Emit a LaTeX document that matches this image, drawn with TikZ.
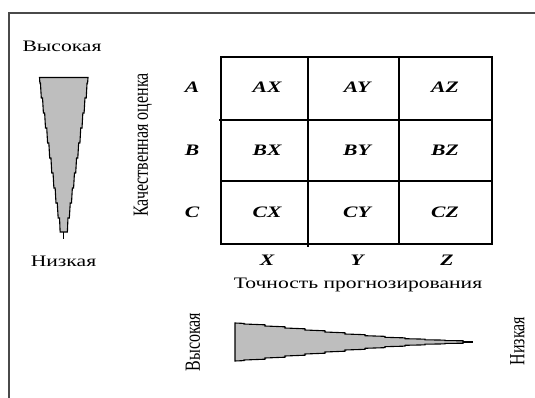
\documentclass[tikz,border=0pt]{standalone}
\usepackage{fontspec}
\setmainfont{Liberation Serif}
\usepackage{graphicx}
\newcommand{\hstr}[1]{\scalebox{1.35}[1]{#1}}
\newcommand{\vstr}[1]{\rotatebox{90}{\scalebox{1}[1.35]{#1}}}
\definecolor{wedgegray}{HTML}{BEBEBE}
\definecolor{framegray}{HTML}{4A4A4A}
\begin{document}
\begin{tikzpicture}[x=1pt,y=-1pt,
  every node/.style={inner sep=0pt,font=\fontsize{16}{19}\selectfont},
  letter/.style={font=\fontsize{16}{19}\selectfont\bfseries\itshape},
  framel/.style={draw=framegray,line width=1.4pt},
  gridl/.style={draw=black,line width=1.1pt},
  wedge/.style={fill=wedgegray,draw=black,line width=1.1pt,line join=miter}]
\useasboundingbox (0,0) rectangle (535,398);
% frame
\draw[framel] (535,13) -- (9,13) -- (9,398);

% left wedge (vertical)
\def\cx{63.75}
\filldraw[wedge] ({\cx-24.25},77.5) -- ({\cx+24.25},77.5)
  \foreach \a/\ha/\b/\hb in {77.5/24.25/83/23.3, 83/23.3/98/21.2, 98/21.2/113/19.1,
     113/19.1/128/17, 128/17/143/14.9, 143/14.9/158/12.8, 158/12.8/173/10.7,
     173/10.7/188/8.6, 188/8.6/203/6.5, 203/6.5/218/4.2, 218/4.2/232/2.8}
  { -- ({\cx+\ha-0.4*(\ha-\hb)},\b) -- ({\cx+\hb},\b) }
  \foreach \a/\ha/\b/\hb in {218/4.2/232/2.8, 203/6.5/218/4.2, 188/8.6/203/6.5,
     173/10.7/188/8.6, 158/12.8/173/10.7, 143/14.9/158/12.8, 128/17/143/14.9,
     113/19.1/128/17, 98/21.2/113/19.1, 83/23.3/98/21.2, 77.5/24.25/83/23.3}
  { -- ({\cx-\hb},\b) -- ({\cx-\ha+0.4*(\ha-\hb)},\b) -- ({\cx-\ha},\a) } -- cycle;
\coordinate (ltip0) at (\cx,232);
\coordinate (ltip1) at (\cx,239);
\draw[line width=1.1pt] (ltip0) -- (ltip1);

% bottom wedge (horizontal)
\def\cy{342}
\filldraw[wedge] (235,{\cy-19}) -- (235,{\cy+19})
  \foreach \a/\ha/\b/\hb in {235/19/244/18, 244/18/265/16, 265/16/285/14,
     285/14/305/12, 305/12/325/10, 325/10/345/8, 345/8/365/6.3, 365/6.3/385/4.7,
     385/4.7/405/3.3, 405/3.3/425/2.2, 425/2.2/445/1.4, 445/1.4/463/1.0}
  { -- (\b,{\cy+\ha-0.4*(\ha-\hb)}) -- (\b,{\cy+\hb}) }
  \foreach \a/\ha/\b/\hb in {445/1.4/463/1.0, 425/2.2/445/1.4, 405/3.3/425/2.2,
     385/4.7/405/3.3, 365/6.3/385/4.7, 345/8/365/6.3, 325/10/345/8, 305/12/325/10,
     285/14/305/12, 265/16/285/14, 244/18/265/16, 235/19/244/18}
  { -- (\b,{\cy-\hb}) -- (\b,{\cy-\ha+0.4*(\ha-\hb)}) -- (\a,{\cy-\ha}) } -- cycle;
\coordinate (btip0) at (463,\cy);
\coordinate (btip1) at (473,\cy);
\draw[line width=1.1pt] (btip0) -- (btip1);

% grid
\draw[gridl] (221,57) rectangle (492,244);
\draw[gridl] (308,57) -- (308,247);
\draw[gridl] (399,57) -- (399,244);
\draw[gridl] (219,120) -- (492,120);
\draw[gridl] (221,181) -- (492,181);

% texts
\node (hi1) at (62,46) {\hstr{Высокая}};
\node (lo1) at (63.5,261) {\hstr{Низкая}};
\node (qual) at (143,145) {\vstr{Качественная оценка}};
\node[letter] (rA) at (192,87) {\hstr{A}};
\node[letter] (rB) at (192,150) {\hstr{B}};
\node[letter] (rC) at (192,212) {\hstr{C}};
\node[letter] (AX) at (267,87) {\hstr{AX}};
\node[letter] (AY) at (357,87) {\hstr{AY}};
\node[letter] (AZ) at (445,87) {\hstr{AZ}};
\node[letter] (BX) at (267,150) {\hstr{BX}};
\node[letter] (BY) at (357,150) {\hstr{BY}};
\node[letter] (BZ) at (445,150) {\hstr{BZ}};
\node[letter] (CX) at (267,212) {\hstr{CX}};
\node[letter] (CY) at (357,212) {\hstr{CY}};
\node[letter] (CZ) at (445,212) {\hstr{CZ}};
\node[letter] (cX) at (267,260) {\hstr{X}};
\node[letter] (cY) at (357,260) {\hstr{Y}};
\node[letter] (cZ) at (447,260) {\hstr{Z}};
\node (acc) at (358,285) {\hstr{Точность прогнозирования}};
\node (hi2) at (193,342) {\vstr{Высокая}};
\node (lo2) at (517.5,341) {\vstr{Низкая}};
\end{tikzpicture}
\end{document}
